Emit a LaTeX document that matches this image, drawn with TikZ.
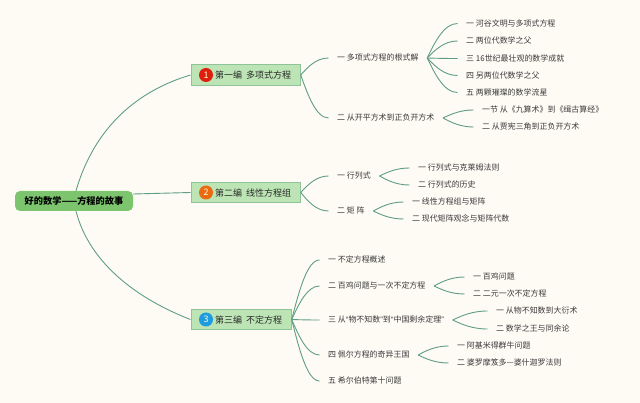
\documentclass[tikz,border=0pt]{standalone}
\usepackage{fontspec}
\usetikzlibrary{calc}
\setmainfont{Noto Sans CJK SC}
\newfontfamily\latinq{Liberation Sans}
\definecolor{bgc}{HTML}{FEFBF5}
\definecolor{rootc}{HTML}{7CC56E}
\definecolor{chapc}{HTML}{BCE4B4}
\definecolor{chapl}{HTML}{8FC39A}
\definecolor{linkc}{HTML}{5F9E83}
\definecolor{txtc}{HTML}{3A3A3A}
\definecolor{redb}{HTML}{DD1F0C}
\definecolor{orab}{HTML}{E96A10}
\definecolor{blub}{HTML}{1F9BE0}
\newcommand{\q}[1]{{\latinq #1}}
\newcommand{\gap}{\hspace{2pt}}
\tikzset{
  rootbox/.style={fill=rootc,rounded corners=5pt,minimum width=118pt,minimum height=20pt,inner sep=0pt,font=\fontsize{9.2}{10}\selectfont\bfseries,text=black},
  chapbox/.style={fill=chapc,draw=chapl,line width=.7pt,minimum height=20.5pt,inner sep=0pt,anchor=west},
  chaptext/.style={anchor=west,inner sep=0pt,font=\fontsize{9}{10}\selectfont,text=txtc!70!black},
  badge/.style={circle,minimum size=14pt,inner sep=0pt,font=\fontsize{9}{10}\selectfont,text=white!85!yellow},
  item/.style={anchor=west,inner ysep=0pt,inner xsep=8.5pt,text height=6.6pt,text depth=1.4pt,font=\fontsize{7.95}{10}\selectfont,text=txtc},
  link/.style={draw=linkc,line width=.9pt},
  curve/.style={to path={let \p1=(\tikztostart),\p2=(\tikztotarget) in
    .. controls ({\x1+.25*(\x2-\x1)},{\y1+.45*(\y2-\y1)}) and ({\x1+.55*(\x2-\x1)},{\y2}) .. (\tikztotarget)}}
}
\begin{document}
\begin{tikzpicture}[x=1pt,y=-1pt]
\path[use as bounding box,fill=bgc] (0,0) rectangle (640,403);
% root and chapters
\node[rootbox] (root) at (74,201) {好的数学——方程的故事};
\node[chapbox,minimum width=109.5pt] (c1) at (190.5,75) {};
\node[chapbox,minimum width=109.5pt] (c2) at (190.5,192.5) {};
\node[chapbox,minimum width=100.5pt] (c3) at (190.5,319.5) {};
\node[badge,fill=redb] (b1) at (206,75) {1};
\node[badge,fill=orab] (b2) at (206,192.5) {2};
\node[badge,fill=blub] (b3) at (206,319.5) {3};
\node[chaptext] (t1) at (215,75.5) {第一编\gap{} 多项式方程};
\node[chaptext] (t2) at (215,193) {第二编\gap{} 线性方程组};
\node[chaptext] (t3) at (215,320) {第三编\gap{} 不定方程};
\draw[link] ([xshift=2pt]root.north) .. controls (95,125) and (140,90) .. (c1.west);
\draw[link] ([yshift=7pt]root.east) -- (c2.west);
\draw[link] ([xshift=2pt]root.south) .. controls (90,265) and (140,300) .. (c3.west);
% chapter 1
\node[item] (a) at (328.5,58) {一 多项式方程的根式解};
\node[item] (b) at (328.5,118) {二 从开平方术到正负开方术};
\node[item] (a1) at (457.5,23.5) {一 河谷文明与多项式方程};
\node[item] (a2) at (457.5,41) {二 两位代数学之父};
\node[item] (a3) at (457.5,58.5) {三 16世纪最壮观的数学成就};
\node[item] (a4) at (457.5,75.5) {四 另两位代数学之父};
\node[item] (a5) at (457.5,92.5) {五 两颗璀璨的数学流星};
\node[item] (b1t) at (473.5,110) {一节 从《九算术》到《缉古算经》};
\node[item] (b2t) at (473.5,127) {二 从贾宪三角到正负开方术};
\draw[link] (c1.east) to[curve] (a.west);
\draw[link] (c1.east) to[curve] (b.west);
\foreach \k in {a1,a2,a3,a4,a5} \draw[link] (a.east) to[curve] (\k.west);
\foreach \k in {b1t,b2t} \draw[link] (b.east) to[curve] (\k.west);
% chapter 2
\node[item] (d) at (328.5,176) {一 行列式};
\node[item] (e) at (328.5,211) {二 矩 阵};
\node[item] (d1) at (409.5,168) {一 行列式与克莱姆法则};
\node[item] (d2) at (409.5,185) {二 行列式的历史};
\node[item] (e1) at (403.5,202) {一 线性方程组与矩阵};
\node[item] (e2) at (403.5,219) {二 现代矩阵观念与矩阵代数};
\draw[link] (c2.east) to[curve] (d.west);
\draw[link] (c2.east) to[curve] (e.west);
\foreach \k in {d1,d2} \draw[link] (d.east) to[curve] (\k.west);
\foreach \k in {e1,e2} \draw[link] (e.east) to[curve] (\k.west);
% chapter 3
\node[item] (f) at (319.5,260) {一 不定方程概述};
\node[item] (g) at (319.5,286) {二 百鸡问题与一次不定方程};
\node[item] (h) at (319.5,320) {三 从\q{“}物不知数\q{”}到\q{“}中国剩余定理\q{”}};
\node[item] (i) at (319.5,355) {四 佩尔方程的奇异王国};
\node[item] (j) at (319.5,381) {五 希尔伯特第十问题};
\node[item] (g1) at (464.5,277) {一 百鸡问题};
\node[item] (g2) at (464.5,294) {二 二元一次不定方程};
\node[item] (h1) at (487.5,311) {一 从物不知数到大衍术};
\node[item] (h2) at (487.5,329) {二 数学之王与同余论};
\node[item] (i1) at (448.5,346) {一 阿基米得群牛问题};
\node[item] (i2) at (448.5,363) {二 婆罗摩笈多—婆什迦罗法则};
\foreach \k in {f,g,h,i,j} \draw[link] (c3.east) to[curve] (\k.west);
\foreach \k in {g1,g2} \draw[link] (g.east) to[curve] (\k.west);
\foreach \k in {h1,h2} \draw[link] (h.east) to[curve] (\k.west);
\foreach \k in {i1,i2} \draw[link] (i.east) to[curve] (\k.west);
\end{tikzpicture}
\end{document}
